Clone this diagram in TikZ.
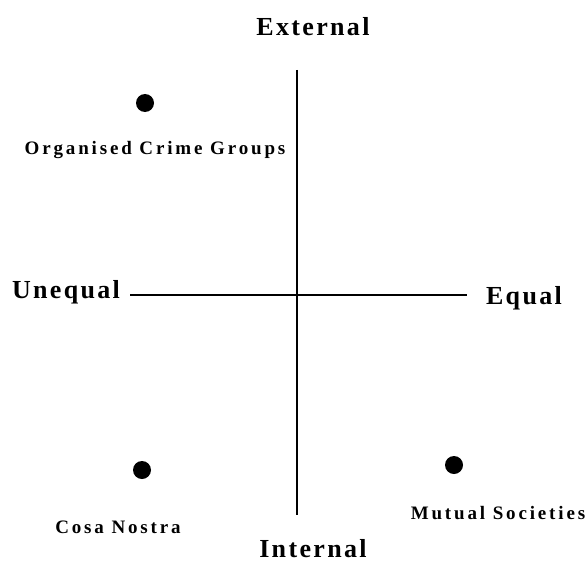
\documentclass[tikz,border=0pt]{standalone}
\usepackage{fontspec}
\setmainfont{Liberation Serif}
\usepackage{tikz}
\usetikzlibrary{positioning}

\tikzset{
  axislabel/.style={font=\fontsize{26}{28}\selectfont\bfseries\addfontfeatures{LetterSpace=9}},
  grouplabel/.style={font=\fontsize{19}{21}\selectfont\bfseries\addfontfeatures{LetterSpace=15}},
  groupdot/.style={circle,fill=black,inner sep=0pt,minimum size=18pt}
}

\begin{document}
\begin{tikzpicture}[x=1pt,y=-1pt]
  \useasboundingbox (0,0) rectangle (588,575);
  % axes
  \coordinate (top) at (297,70);
  \coordinate (bottom) at (297,515);
  \coordinate (left) at (130,295);
  \coordinate (right) at (467,295);
  \draw[line width=1.3pt] (top) -- (bottom);
  \draw[line width=1.3pt] (left) -- (right);
  \node[axislabel] (external) at (313,27) {External};
  \node[axislabel] (internal) at (313,549) {Internal};
  \node[axislabel] (unequal) at (66,292) {Unequal};
  \node[axislabel] (equal) at (524,298) {Equal};
  % groups
  \node[groupdot] (ocg) at (145,103) {};
  \node[grouplabel] (ocglab) at (155,150) {Organised Crime Groups};
  \node[groupdot] (cosa) at (142,470) {};
  \node[grouplabel] (cosalab) at (118,527) {Cosa Nostra};
  \node[groupdot] (mutual) at (454,465) {};
  \node[grouplabel] (mutuallab) at (498,513) {Mutual Societies};
\end{tikzpicture}
\end{document}
